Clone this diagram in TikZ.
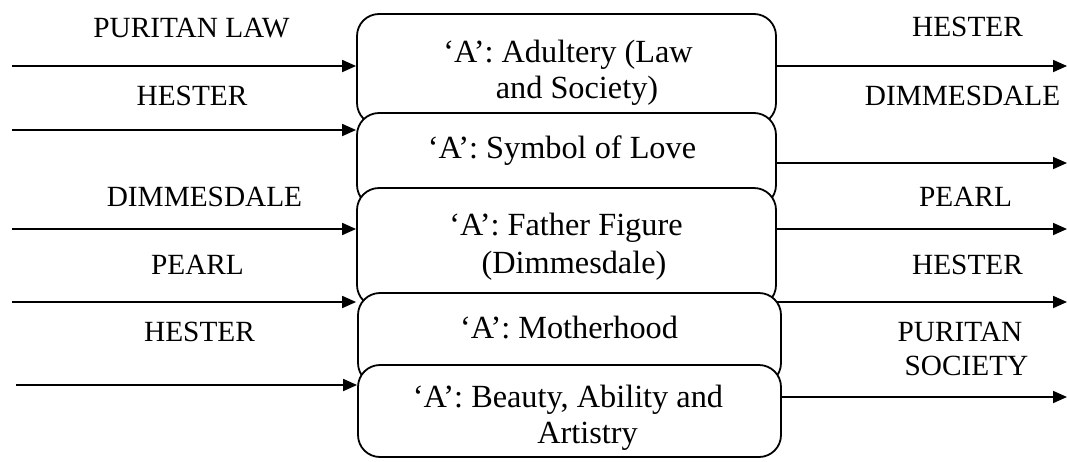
\documentclass[tikz,border=0pt]{standalone}
\usepackage{fontspec}
\setmainfont{Liberation Serif}
\usetikzlibrary{arrows.meta}
\begin{document}
\begin{tikzpicture}[x=1pt,y=-1pt,
  box/.style={draw, line width=1.8pt, fill=white, rounded corners=22pt, inner sep=0pt},
  lab/.style={anchor=base, inner sep=0pt, align=center, font=\fontsize{29.3pt}{34pt}\selectfont},
  boxtext/.style={anchor=base, inner sep=0pt, align=center, font=\fontsize{32.3pt}{36pt}\selectfont},
  arr/.style={line width=1.8pt, -{Triangle[length=14pt,width=12pt]}}]
\useasboundingbox (0,0) rectangle (1067,461);
% boxes
\node[box, minimum width=419pt, minimum height=111pt] (b1) at (566.5,69.5) {};
\node[box, minimum width=419pt, minimum height=94pt]  (b2) at (566.5,160) {};
\node[box, minimum width=419pt, minimum height=119pt] (b3) at (566.5,247.5) {};
\node[box, minimum width=423pt, minimum height=92pt]  (b4) at (569.5,339) {};
\node[box, minimum width=423pt, minimum height=92pt]  (b5) at (569.5,411) {};
% box texts (base anchor = baseline of the last line)
\node[boxtext] (t1) at (568,98) {`A': Adultery (Law\\\hspace*{18pt}and Society)};
\node[boxtext] (t2) at (562,158) {`A': Symbol of Love};
\node[boxtext, font=\fontsize{32.3pt}{38pt}\selectfont] (t3) at (566,273) {`A': Father Figure\\\hspace*{16pt}(Dimmesdale)};
\node[boxtext] (t4) at (569,338) {`A': Motherhood};
\node[boxtext] (t5) at (568,443) {`A': Beauty, Ability and\\\hspace*{39pt}Artistry};
% left labels
\node[lab] (lp1) at (191.5,37) {PURITAN LAW};
\node[lab] (lh1) at (192,105) {HESTER};
\node[lab] (ld) at (204.5,206) {DIMMESDALE};
\node[lab] (lp) at (197.5,274) {PEARL};
\node[lab] (lh2) at (199.5,341) {HESTER};
% right labels
\node[lab] (rh1) at (967.5,36) {HESTER};
\node[lab] (rd) at (962.5,105) {DIMMESDALE};
\node[lab] (rp) at (965.5,206) {PEARL};
\node[lab] (rh2) at (967.5,274) {HESTER};
\node[lab] (rps) at (960,375) {PURITAN\\\hspace*{13pt}SOCIETY};
% left arrows
\coordinate (s1) at (12,66);
\coordinate (s2) at (12,130);
\coordinate (s3) at (12,229);
\coordinate (s4) at (12,302);
\coordinate (s5) at (16,385);
\draw[arr] (s1) -- (s1 -| b1.west);
\draw[arr] (s2) -- (s2 -| b2.west);
\draw[arr] (s3) -- (s3 -| b3.west);
\draw[arr] (s4) -- (s4 -| b3.west);
\draw[arr] (s5) -- (s5 -| b5.west);
% right arrows
\coordinate (e1) at (1067,66);
\coordinate (e2) at (1067,163);
\coordinate (e3) at (1067,229);
\coordinate (e4) at (1067,302);
\coordinate (e5) at (1067,397);
\draw[arr] (e1 -| b1.east) -- (e1);
\draw[arr] (e2 -| b2.east) -- (e2);
\draw[arr] (e3 -| b3.east) -- (e3);
\draw[arr] (e4 -| b3.east) -- (e4);
\draw[arr] (e5 -| b5.east) -- (e5);
\end{tikzpicture}
\end{document}
